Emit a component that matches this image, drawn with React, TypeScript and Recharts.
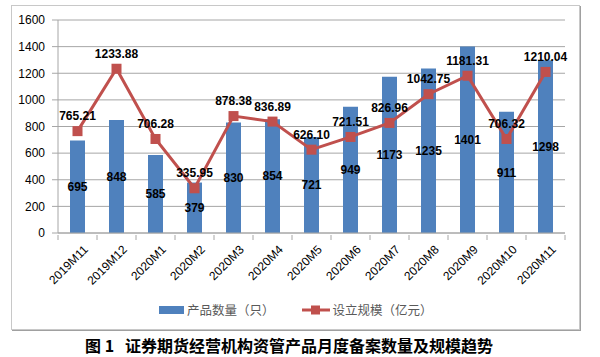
import {
  Bar,
  CartesianGrid,
  ComposedChart,
  LabelList,
  Legend,
  Line,
  XAxis,
  YAxis,
} from "recharts";

const months = [
  "2019M11", "2019M12", "2020M1", "2020M2", "2020M3", "2020M4", "2020M5",
  "2020M6", "2020M7", "2020M8", "2020M9", "2020M10", "2020M11",
];
const counts = [695, 848, 585, 379, 830, 854, 721, 949, 1173, 1235, 1401, 911, 1298];
const scales = [
  765.21, 1233.88, 706.28, 335.95, 878.38, 836.89, 626.1, 721.51, 826.96, 1042.75,
  1181.31, 706.32, 1210.04,
];
const yTicks = [0, 200, 400, 600, 800, 1000, 1200, 1400, 1600];

const data = months.map((m, i) => ({ month: m, count: counts[i], scale: scales[i] }));

const BLUE = "#4F81BD";
const RED = "#C0504D";
const GRID = "#A6A6A6";
const BAND = 507 / months.length;

// Excel-style ticks sit between categories, labels rotated 45°
function MonthTick(props: any) {
  const { x, y, payload, index } = props;
  const last = index === months.length - 1;
  return (
    <g>
      <line x1={x - BAND / 2} y1={y} x2={x - BAND / 2} y2={y + 5} stroke={GRID} />
      {last && <line x1={x + BAND / 2} y1={y} x2={x + BAND / 2} y2={y + 5} stroke={GRID} />}
      <text
        transform={`translate(${x + 5},${y + 9}) rotate(-45)`}
        textAnchor="end"
        dominantBaseline="hanging"
        fontSize={12}
        fontFamily="Liberation Sans, Arial"
        fill="#000"
      >
        {payload.value}
      </text>
    </g>
  );
}

function SquareDot(props: any) {
  const { cx, cy } = props;
  if (cx == null || cy == null) return null;
  return <rect x={cx - 5} y={cy - 5} width={10} height={10} fill={RED} />;
}

function LegendBox(props: any) {
  const items = props.payload || [];
  return (
    <div style={{ display: "flex", height: 16, alignItems: "center", gap: 27 }}>
      {items.map((it: any) => (
        <div key={it.value} style={{ display: "flex", alignItems: "center" }}>
          {it.type === "rect" ? (
            <svg width={25} height={8} style={{ marginRight: 3 }}>
              <rect width={25} height={8} fill={BLUE} />
            </svg>
          ) : (
            <svg width={28} height={10} style={{ marginRight: 3 }}>
              <line x1={0} y1={5} x2={28} y2={5} stroke={RED} strokeWidth={3} />
              <rect x={9} y={0.5} width={9} height={9} fill={RED} />
            </svg>
          )}
          <span
            style={{
              fontFamily: "Noto Sans CJK SC",
              fontSize: 12.5,
              color: "#595959",
              lineHeight: "16px",
            }}
          >
            {it.value}
          </span>
        </div>
      ))}
    </div>
  );
}

export default function App() {
  return (
    <div style={{ position: "absolute", left: 0, top: 0, width: 600, height: 357, background: "#fff" }}>
      <div
        style={{
          position: "absolute",
          left: 11,
          top: 5,
          width: 567,
          height: 323,
          border: "1px solid #C8C8C8",
          boxShadow: "1px 1px 0 #A0A0A0",
        }}
      />
      <div style={{ position: "absolute", left: 0, top: 0 }}>
        <ComposedChart
          width={600}
          height={357}
          data={data}
          margin={{ top: 20, right: 35, bottom: 39, left: 13 }}
        >
          <CartesianGrid vertical={false} stroke={GRID} />
          <XAxis
            dataKey="month"
            height={69}
            interval={0}
            stroke={GRID}
            tickLine={false}
            tickSize={0}
            tick={<MonthTick />}
          />
          <YAxis
            width={45}
            domain={[0, 1600]}
            ticks={yTicks}
            stroke={GRID}
            tickSize={6}
            tickMargin={7}
            tick={{ fontSize: 12, fill: "#000", fontFamily: "Liberation Sans, Arial" }}
          />
          <Legend
            verticalAlign="bottom"
            content={<LegendBox />}
            wrapperStyle={{ left: 159, width: 300 }}
          />
          <Bar
            dataKey="count"
            name="产品数量（只）"
            fill={BLUE}
            barSize={15}
            legendType="rect"
            isAnimationActive={false}
          >
            <LabelList
              dataKey="count"
              position="center"
              fill="#000"
              fontSize={12}
              fontWeight="bold"
              fontFamily="Liberation Sans, Arial"
            />
          </Bar>
          <Line
            dataKey="scale"
            name="设立规模（亿元）"
            stroke={RED}
            strokeWidth={3}
            dot={<SquareDot />}
            activeDot={false}
            legendType="line"
            isAnimationActive={false}
          >
            <LabelList
              dataKey="scale"
              position="top"
              offset={11}
              fill="#000"
              fontSize={12}
              fontWeight="bold"
              fontFamily="Liberation Sans, Arial"
              formatter={(v: any) => Number(v).toFixed(2)}
            />
          </Line>
        </ComposedChart>
      </div>
      <div
        style={{
          position: "absolute",
          left: 85,
          top: 336,
          whiteSpace: "pre",
          fontFamily: "Noto Sans CJK SC",
          fontWeight: "bold",
          fontSize: 16,
          lineHeight: "18px",
          color: "#000",
        }}
      >
        {"图 1   证券期货经营机构资管产品月度备案数量及规模趋势"}
      </div>
    </div>
  );
}
